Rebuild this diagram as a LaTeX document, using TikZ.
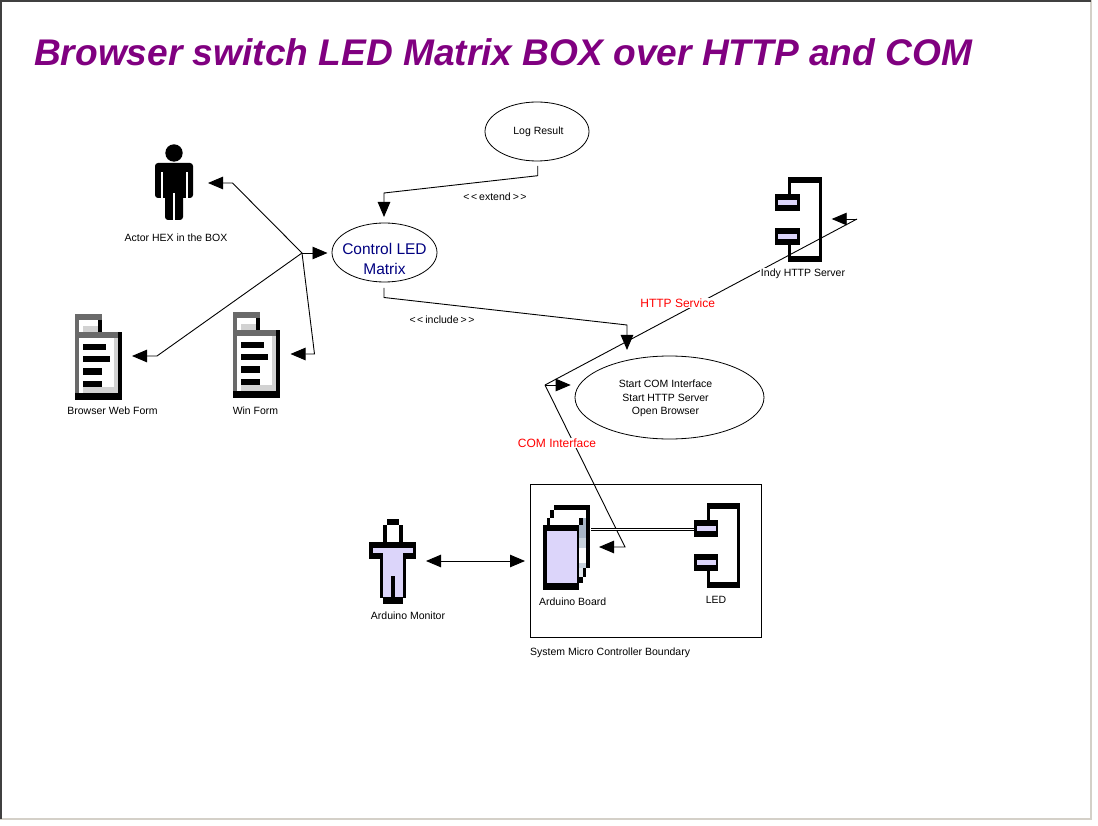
\documentclass[tikz,border=0pt]{standalone}
\usepackage{fontspec}
\setmainfont{Liberation Sans}
\usetikzlibrary{arrows.meta,shapes.geometric}
\definecolor{lav}{HTML}{DCD5FA}
\definecolor{purp}{HTML}{800080}
\definecolor{navyblue}{HTML}{000080}
\definecolor{darkedge}{HTML}{404040}
\definecolor{lightedge}{HTML}{D4D0C8}
\definecolor{formgray}{HTML}{6A6A6A}
\definecolor{formlight}{HTML}{D2D2D2}
\definecolor{stripdark}{HTML}{A8B6C6}
\definecolor{stripmid}{HTML}{C8D2DC}
\definecolor{striplight}{HTML}{E2E8EE}
\tikzset{
	flow/.style={black,line width=0.9pt,-{Triangle[length=15pt,width=12.5pt]}},
	plainline/.style={black,line width=0.9pt},
	usecase/.style={draw=black,line width=0.8pt,ellipse,inner sep=0pt},
	caption/.style={font=\fontsize{10.5}{12}\selectfont,inner sep=0pt,align=center},
	redlabel/.style={font=\fontsize{12}{14}\selectfont,text=red,fill=white,inner sep=1pt},
	compicon/.pic={
		\fill (13,0) rectangle (46.5,6);
		\fill (43.5,0) rectangle (46.5,84.5);
		\fill (13,78.5) rectangle (46.5,84.5);
		\fill (13,0) rectangle (16,17);
		\fill (13,68) rectangle (16,84.5);
		\fill (0,17) rectangle (24.5,34);
		\fill (0,51) rectangle (24.5,67.5);
		\fill[lav] (3,22.5) rectangle (22,27.5);
		\fill[lav] (3,57) rectangle (22,62);
	},
	formicon/.pic={
		\fill[formgray] (0,0) rectangle (27,6);
		\fill[formgray] (0,0) rectangle (4,80);
		\fill (23,6) rectangle (27,18);
		\fill[formlight] (8,12) rectangle (23,18);
		\fill[formgray] (0,18) rectangle (43,24);
		\fill[formlight] (39,24) rectangle (43,80);
		\fill[formlight] (8,73) rectangle (39,79);
		\fill (43,18) rectangle (47,86);
		\fill (0,79) rectangle (47,86);
		\fill (8,30) rectangle (31,36);
		\fill (8,42) rectangle (35,48);
		\fill (8,54) rectangle (27,61);
		\fill (8,67) rectangle (27,73);
	}
}
\begin{document}
\begin{tikzpicture}[x=1pt,y=-1pt]
	\useasboundingbox (0,0) rectangle (1098,826);
	% window edge
	\fill[lightedge] (1090,0) rectangle (1091.5,819.5);
	\fill[lightedge] (0,818) rectangle (1091.5,819.5);
	\fill[darkedge] (0,0) rectangle (1091,2);
	\fill[darkedge] (0,0) rectangle (2,819);

	\node[anchor=west,inner sep=0pt,text=purp,font=\fontsize{37.1}{40}\bfseries\itshape](title) at (34,52){Browser switch LED Matrix BOX over HTTP and COM};

	% use cases
	\node[usecase,minimum width=104pt,minimum height=59pt](logresult) at (537,131.5){};
	\node[caption](logtext) at (538.5,132){Log Result};
	\node[usecase,minimum width=105pt,minimum height=59pt](control) at (384.5,252.5){};
	\node[caption,text=navyblue,font=\fontsize{15.5}{20}\selectfont](controltext) at (384.5,258.5){Control LED\\Matrix};
	\node[usecase,minimum width=189pt,minimum height=83pt](startup) at (669.5,397.5){};
	\node[caption,font=\fontsize{10.5}{13.5}\selectfont](startuptext) at (665.5,398.5){Start COM Interface\\Start HTTP Server\\Open Browser};

	% actor
	\fill (174,153) circle (8.7);
	\fill[rounded corners=3pt] (155,163) rectangle (193,198);
	\fill (163,170) rectangle (186,195);
	\fill[rounded corners=3pt] (165,185) rectangle (183,220);
	\fill[white] (161,172) rectangle (163,200);
	\fill[white] (186,172) rectangle (188,200);
	\fill[white] (172.5,193) rectangle (175,221);
	\node[caption](actorlabel) at (176,238){Actor HEX in the BOX};

	% forms
	\pic at (75,314) {formicon};
	\pic at (233,312) {formicon};
	\node[caption](browserlabel) at (112.5,411){Browser Web Form};
	\node[caption](winlabel) at (255.5,411){Win Form};

	% components
	\pic at (775,177.3) {compicon};
	\pic at (693.5,503.3) {compicon};

	% monitor
	\fill (387,519) rectangle (398.5,525);
	\fill (383,525) rectangle (387,544);
	\fill (398.5,525) rectangle (402.5,544);
	\fill (369,542) rectangle (416,558.5);
	\fill (379.7,558) rectangle (405.5,598);
	\fill (383,597) rectangle (402.5,604);
	\fill[lav] (373,548) rectangle (412.5,553);
	\fill[lav] (383,553) rectangle (402.5,597);
	\fill (391,576) rectangle (394.5,598);
	\node[caption](monitorlabel) at (408,616){Arduino Monitor};

	% board
	\fill (554,505) rectangle (590,510);
	\fill (550,510) rectangle (554,518);
	\fill (546.7,518) rectangle (550,525);
	\fill (586,505) rectangle (590,568);
	\fill (582.7,568) rectangle (586,577);
	\fill (579,577) rectangle (582.7,583);
	\fill (543,525) rectangle (579,590);
	\fill[lav] (547,530.7) rectangle (576.5,583);
	\fill[stripdark] (579,525) rectangle (586,538);
	\fill[stripdark] (583,518) rectangle (586,525);
	\fill[stripmid] (579,538) rectangle (586,548);
	\fill[stripmid] (579,563) rectangle (586,568);
	\fill[striplight] (579,568) rectangle (582.7,577);
	\fill (579,518) rectangle (583,525);
	\node[caption](boardlabel) at (572.7,601.7){Arduino Board};
	\node[caption](ledlabel) at (716,600){LED};

	% boundary
	\node[draw=black,line width=0.8pt,inner sep=0pt,minimum width=231.5pt,minimum height=153pt](boundary) at (645.8,560.8){};
	\node[caption,anchor=west](boundarylabel) at (530,652.7){System Micro Controller Boundary};

	% connector ends
	\coordinate (hub) at (302,253);
	\coordinate (hubactor) at (232.5,183);
	\coordinate (actortip) at (208,183);
	\coordinate (hubbrowser) at (157,356);
	\coordinate (browsertip) at (132,356);
	\coordinate (hubwin) at (314.5,354);
	\coordinate (wintip) at (290.5,354);
	\coordinate (controltip) at (327.5,253);
	\coordinate (logout) at (537.7,166);
	\coordinate (logbend) at (537.7,175.7);
	\coordinate (extbend) at (384,193);
	\coordinate (exttip) at (384,217);
	\coordinate (ctrlout) at (384,288);
	\coordinate (ctrlbend) at (384,297.5);
	\coordinate (incbend) at (627,325);
	\coordinate (inctip) at (627,350);
	\coordinate (serverend) at (857,219);
	\coordinate (servertip) at (831.7,219);
	\coordinate (comhub) at (545,385);
	\coordinate (startuptip) at (570.7,385);
	\coordinate (boardend) at (625,547);
	\coordinate (boardtip) at (599,547);
	\coordinate (boardport) at (591,529.5);
	\coordinate (ledport) at (693.5,529.5);
	\coordinate (monitorport) at (426,561);
	\coordinate (boardside) at (525,561);

	\draw[flow] (hub) -- (hubactor) -- (actortip);
	\draw[flow] (hub) -- (controltip);
	\draw[flow] (hub) -- (hubbrowser) -- (browsertip);
	\draw[flow] (hub) -- (hubwin) -- (wintip);
	\draw[flow] (logout) -- (logbend) -- (extbend) -- (exttip);
	\draw[flow] (ctrlout) -- (ctrlbend) -- (incbend) -- (inctip);
	\draw[plainline] (serverend) -- (comhub);
	\draw[flow] (serverend) -- (servertip);
	\draw[flow] (comhub) -- (startuptip);
	\draw[flow] (comhub) -- (boardend) -- (boardtip);
	\draw[black,line width=0.8pt,double=white,double distance=1pt] (boardport) -- (ledport);
	\draw[black,line width=0.9pt,{Triangle[length=15pt,width=12.5pt]}-{Triangle[length=15pt,width=12.5pt]}] (monitorport) -- (boardside);

	% labels on top of the lines
	\node[caption,fill=white,inner sep=1pt](serverlabel) at (803,274){Indy HTTP Server};
	\node[redlabel](httplabel) at (677.7,303){HTTP Service};
	\node[redlabel](comlabel) at (557,443){COM Interface};
	\node[caption](extendlabel) at (495,197){<\hspace{1.5pt}<\hspace{2pt}extend\hspace{2pt}>\hspace{1.5pt}>};
	\node[caption](includelabel) at (442,320){<\hspace{1.5pt}<\hspace{2pt}include\hspace{2pt}>\hspace{1.5pt}>};
\end{tikzpicture}
\end{document}
